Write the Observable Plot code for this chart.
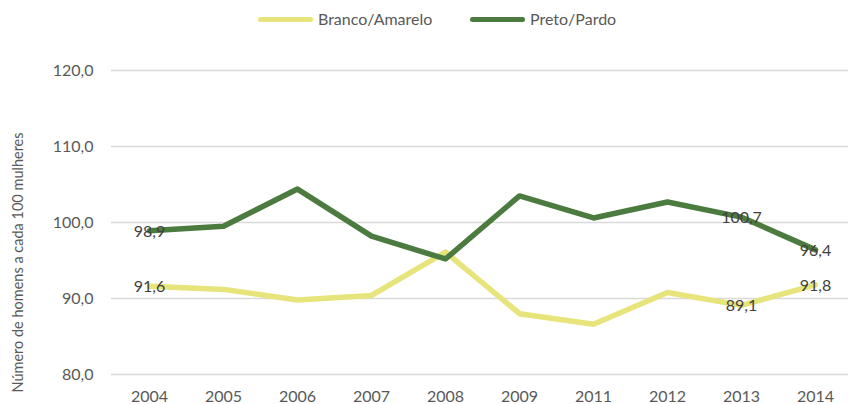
<!DOCTYPE html>
<html><head><meta charset="utf-8">
<script src="https://cdn.jsdelivr.net/npm/d3@7"></script>
<script src="https://cdn.jsdelivr.net/npm/@observablehq/plot@0.6"></script>
<style>
body{margin:0;background:#fff;font-family:Lato, sans-serif;}
#legend{position:relative;height:40px;width:848px;}
.item{position:absolute;top:9px;display:flex;align-items:center;font-size:16px;color:#595959;line-height:20px;}
.sw{width:55px;height:5px;border-radius:3px;margin-right:5px;}
</style></head><body>
<div id="legend"></div><div id="chart"></div>
<script>
const years = ["2004","2005","2006","2007","2008","2009","2011","2012","2013","2014"];
const branco = [91.6, 91.2, 89.8, 90.4, 96.1, 88.0, 86.6, 90.8, 89.1, 91.8];
const preto  = [98.9, 99.5, 104.4, 98.2, 95.2, 103.5, 100.6, 102.7, 100.7, 96.4];
const labelYears = ["2004","2013","2014"];
const yTicks = [80, 90, 100, 110, 120];
const seriesNames = ["Branco/Amarelo", "Preto/Pardo"];
const seriesColors = ["#e6e47a", "#4b7b3f"];

const data = [];
years.forEach((yr, i) => {
  data.push({year: yr, value: branco[i], series: seriesNames[0]});
  data.push({year: yr, value: preto[i], series: seriesNames[1]});
});
const fmt = v => v.toFixed(1).replace(".", ",");

// legend
const legend = document.getElementById("legend");
const lefts = [258, 470];
seriesNames.forEach((s, i) => {
  const it = document.createElement("div");
  it.className = "item";
  it.style.left = lefts[i] + "px";
  it.innerHTML = `<span class="sw" style="background:${seriesColors[i]}"></span><span>${s}</span>`;
  legend.appendChild(it);
});

const chart = Plot.plot({
  width: 848,
  height: 364,
  marginLeft: 111,
  marginRight: 0,
  marginTop: 30,
  marginBottom: 30,
  style: {fontFamily: "Lato, sans-serif", fontSize: "16px", color: "#595959", background: "#fff", overflow: "visible"},
  x: {type: "point", domain: years, range: [148, 815], padding: 0, label: null},
  y: {domain: [80, 120], label: null},
  color: {domain: seriesNames, range: seriesColors},
  marks: [
    Plot.gridY(yTicks, {stroke: "#d9d9d9", strokeOpacity: 1, strokeWidth: 1.3}),
    Plot.axisY(yTicks, {tickSize: 0, tickPadding: 18, tickFormat: fmt, fill: "#595959", fontSize: 16}),
    Plot.axisX({tickSize: 0, tickPadding: 16, fill: "#595959", fontSize: 16}),
    Plot.text(["Número de homens a cada 100 mulheres"], {frameAnchor: "left", textAnchor: "middle", dx: -93, dy: 40, rotate: -90, fill: "#595959", fontSize: 14.5}),
    Plot.line(data, {x: "year", y: "value", stroke: "series", z: "series", strokeWidth: 5.5, strokeLinejoin: "round", strokeLinecap: "round"}),
    Plot.text(data.filter(d => labelYears.includes(d.year)), {x: "year", y: "value", text: d => fmt(d.value), fill: "#404040", fontSize: 16, dy: 1})
  ]
});
document.getElementById("chart").appendChild(chart);
</script>
</body></html>
